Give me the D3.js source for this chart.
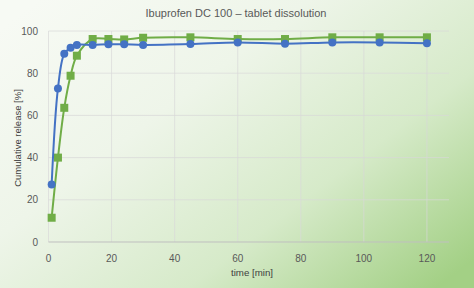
<!DOCTYPE html>
<html><head><meta charset="utf-8">
<script src="https://cdn.jsdelivr.net/npm/d3@7"></script>
<style>html,body{margin:0;padding:0;overflow:hidden;background:#fff}</style>
</head><body>
<script>
const times = [1,3,5,7,9,14,19,24,30,45,60,75,90,105,120];
const seriesBlue = [27.3,72.8,89.2,92.1,93.4,93.4,93.7,93.7,93.4,93.8,94.6,94.0,94.6,94.6,94.2];
const seriesGreen = [11.5,40.0,63.6,78.8,88.3,96.2,96.2,96.0,96.8,97.0,96.2,96.2,97.0,97.0,97.0];
const xTicks = [0,20,40,60,80,100,120];
const yTicks = [0,20,40,60,80,100];
const title = "Ibuprofen DC 100 – tablet dissolution";
const xTitle = "time [min]";
const yTitle = "Cumulative release [%]";

const W = 474, H = 288;
const svg = d3.select("body").append("svg").attr("width", W).attr("height", H);
const defs = svg.append("defs");
const g1 = defs.append("linearGradient").attr("id","bg")
  .attr("x1","0").attr("y1","0.1").attr("x2","1").attr("y2","0.9");
g1.append("stop").attr("offset","0").attr("stop-color","#f7faf4");
g1.append("stop").attr("offset","0.35").attr("stop-color","#eef5e9");
g1.append("stop").attr("offset","0.68").attr("stop-color","#d6eac9");
g1.append("stop").attr("offset","1").attr("stop-color","#a3d085");
svg.append("rect").attr("width",W).attr("height",H).attr("fill","url(#bg)");

const x = d3.scaleLinear().domain([0,127]).range([48.5,449]);
const y = d3.scaleLinear().domain([0,100]).range([242,31]);
const font = "'Liberation Sans', Arial, sans-serif";
const txt = "#595959";

// gridlines
svg.append("g").selectAll("line").data(yTicks.filter(d=>d>0)).join("line")
  .attr("x1",x(0)).attr("x2",x(127)).attr("y1",d=>y(d)).attr("y2",d=>y(d))
  .attr("stroke","#d9d9d9").attr("stroke-opacity",0.7).attr("stroke-width",1);
svg.append("g").selectAll("line").data(xTicks).join("line")
  .attr("x1",d=>x(d)).attr("x2",d=>x(d)).attr("y1",y(0)).attr("y2",y(100))
  .attr("stroke","#d9d9d9").attr("stroke-opacity",0.7).attr("stroke-width",1);
// bottom axis line
svg.append("line").attr("x1",x(0)).attr("x2",x(127)).attr("y1",y(0)).attr("y2",y(0))
  .attr("stroke","#bfbfbf").attr("stroke-width",1);

// tick labels
svg.append("g").selectAll("text").data(xTicks).join("text")
  .attr("x",d=>x(d)).attr("y",262).attr("text-anchor","middle")
  .attr("font-family",font).attr("font-size",10).attr("fill",txt).text(d=>d);
svg.append("g").selectAll("text").data(yTicks).join("text")
  .attr("x",38).attr("y",d=>y(d)+3.5).attr("text-anchor","end")
  .attr("font-family",font).attr("font-size",10).attr("fill",txt).text(d=>d);

// titles
svg.append("text").attr("x",236).attr("y",17).attr("text-anchor","middle")
  .attr("font-family",font).attr("font-size",11).attr("fill",txt).text(title);
svg.append("text").attr("x",252).attr("y",276).attr("text-anchor","middle")
  .attr("font-family",font).attr("font-size",9.7).attr("fill","#404040").text(xTitle);
svg.append("text").attr("transform","translate(21,138) rotate(-90)").attr("text-anchor","middle")
  .attr("font-family",font).attr("font-size",9.5).attr("fill","#404040").text(yTitle);

const line = d3.line().curve(d3.curveCatmullRom.alpha(0.5)).x(d=>x(d[0])).y(d=>y(d[1]));
const green = times.map((t,i)=>[t,seriesGreen[i]]);
const blue = times.map((t,i)=>[t,seriesBlue[i]]);

svg.append("path").datum(green).attr("d",line).attr("fill","none")
  .attr("stroke","#70ad47").attr("stroke-width",2);
svg.append("g").selectAll("rect").data(green).join("rect")
  .attr("x",d=>x(d[0])-4).attr("y",d=>y(d[1])-4).attr("width",8).attr("height",8)
  .attr("fill","#70ad47");

svg.append("path").datum(blue).attr("d",line).attr("fill","none")
  .attr("stroke","#4472c4").attr("stroke-width",2);
svg.append("g").selectAll("circle").data(blue).join("circle")
  .attr("cx",d=>x(d[0])).attr("cy",d=>y(d[1])).attr("r",4)
  .attr("fill","#4472c4");
</script>
</body></html>
